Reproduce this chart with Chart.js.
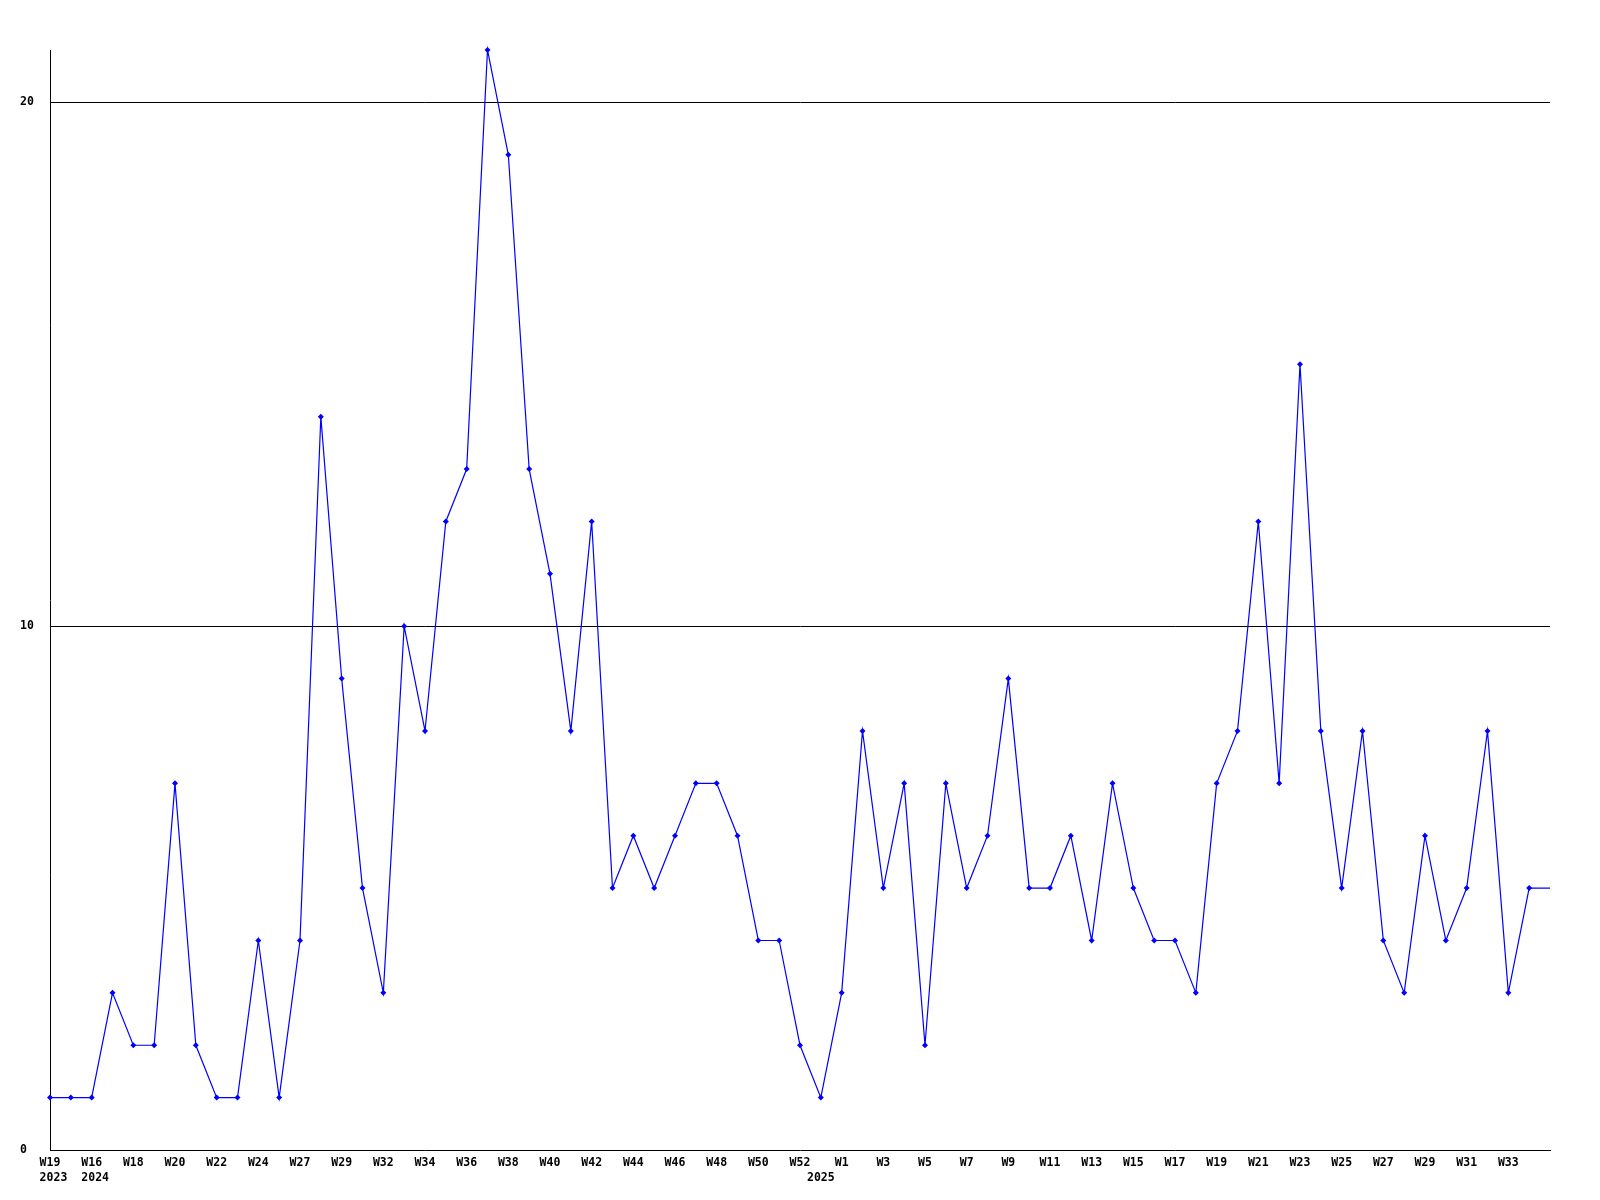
<!DOCTYPE html>
<html>
<head>
<meta charset="utf-8">
<title>Weekly count</title>
<script src="https://cdn.jsdelivr.net/npm/chart.js@4/dist/chart.umd.min.js"></script>
<style>
    html, body { margin: 0; padding: 0; background: #ffffff; }
    #weeklyChart { display: block; }
</style>
</head>
<body>
<canvas id="weeklyChart" width="1600" height="1200"></canvas>
<script>
// --- Data (one point per week) ---
const WEEKS = [
    'W19', 'W20', 'W16', 'W17', 'W18', 'W19', 'W20', 'W21', 'W22', 'W23',
    'W24', 'W26', 'W27', 'W28', 'W29', 'W31', 'W32', 'W33', 'W34', 'W35',
    'W36', 'W37', 'W38', 'W39', 'W40', 'W41', 'W42', 'W43', 'W44', 'W45',
    'W46', 'W47', 'W48', 'W49', 'W50', 'W51', 'W52', 'W0', 'W1', 'W2',
    'W3', 'W4', 'W5', 'W6', 'W7', 'W8', 'W9', 'W10', 'W11', 'W12',
    'W13', 'W14', 'W15', 'W16', 'W17', 'W18', 'W19', 'W20', 'W21', 'W22',
    'W23', 'W24', 'W25', 'W26', 'W27', 'W28', 'W29', 'W30', 'W31', 'W32',
    'W33', 'W34', 'W35'
];
// index of the first point of each year -> year text
const YEAR_STARTS = { 0: '2023', 2: '2024', 37: '2025' };

const COUNTS = [
    1, 1, 1, 3, 2, 2, 7, 2, 1, 1,
    4, 1, 4, 14, 9, 5, 3, 10, 8, 12,
    13, 21, 19, 13, 11, 8, 12, 5, 6, 5,
    6, 7, 7, 6, 4, 4, 2, 1, 3, 8,
    5, 7, 2, 7, 5, 6, 9, 5, 5, 6,
    4, 7, 5, 4, 4, 3, 7, 8, 12, 7,
    15, 8, 5, 8, 4, 3, 6, 4, 5, 8,
    3, 5, 5
];

const Y_MAX = 21;
const Y_TICKS = [0, 10, 20];
const LABEL_EVERY = 2;

const FONT = { family: "'DejaVu Sans Mono', 'Liberation Mono', monospace", size: 11.5, weight: 'bold', lineHeight: 1.3 };

// week label on every 2nd point (none on the last one), year under the first week of a year
function tickLabel(i) {
    const showWeek = i % LABEL_EVERY === 0 && i < WEEKS.length - 1;
    const week = showWeek ? WEEKS[i] : '';
    const year = YEAR_STARTS[i];
    if (year) return [week, (showWeek ? ' ' : '') + year];
    return week;
}

new Chart(document.getElementById('weeklyChart'), {
    type: 'line',
    data: {
        labels: WEEKS,
        datasets: [{
            data: COUNTS,
            borderColor: '#0000ff',
            backgroundColor: '#0000ff',
            borderWidth: 1.2,
            tension: 0,
            fill: false,
            clip: false,
            pointStyle: 'rectRot',
            pointRadius: ctx => ctx.dataIndex === COUNTS.length - 1 ? 0 : 3,
            pointBorderWidth: 0,
            pointBackgroundColor: '#0000ff'
        }]
    },
    options: {
        responsive: false,
        animation: false,
        devicePixelRatio: 1,
        layout: { padding: { top: 50, right: 50, left: 20, bottom: 0 } },
        plugins: {
            legend: { display: false },
            tooltip: { enabled: false }
        },
        scales: {
            x: {
                offset: false,
                grid: { color: 'rgba(0,0,0,0)', drawTicks: false },
                border: { display: true, color: '#000000', width: 1 },
                ticks: {
                    autoSkip: false,
                    maxRotation: 0,
                    minRotation: 0,
                    padding: 6,
                    color: '#000000',
                    font: FONT,
                    callback: (v, i) => tickLabel(i)
                },
                afterFit: s => { s.height = 50; }
            },
            y: {
                min: 0,
                max: Y_MAX,
                afterBuildTicks: s => { s.ticks = Y_TICKS.map(v => ({ value: v })); },
                grid: {
                    drawTicks: false,
                    lineWidth: 1,
                    color: ctx => (ctx.tick && ctx.tick.value > 0) ? '#000000' : 'rgba(0,0,0,0)'
                },
                border: { display: true, color: '#000000', width: 1 },
                ticks: {
                    crossAlign: 'far',
                    color: '#000000',
                    font: FONT
                },
                afterFit: s => { s.width = 30; }
            }
        }
    }
});
</script>
</body>
</html>
